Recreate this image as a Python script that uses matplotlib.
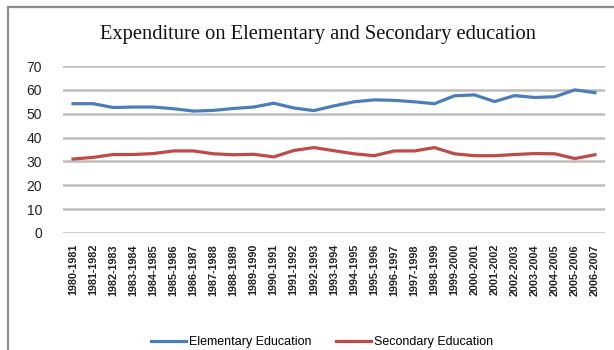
import matplotlib.pyplot as plt
from matplotlib.patches import Rectangle

years = [f"{y}-{y+1}" for y in range(1980, 2007)]
elementary = [54.2, 54.2, 52.6, 52.8, 52.8, 52.1, 51.1, 51.4, 52.2, 52.8,
              54.4, 52.4, 51.3, 53.3, 55.0, 55.8, 55.6, 55.0, 54.2, 57.5,
              57.9, 55.1, 57.6, 56.8, 57.1, 60.0, 58.8]
secondary = [31.0, 31.7, 32.9, 32.9, 33.3, 34.4, 34.4, 33.2, 32.8, 33.0,
             31.9, 34.6, 35.8, 34.5, 33.2, 32.4, 34.4, 34.4, 35.8, 33.2,
             32.4, 32.4, 32.9, 33.3, 33.2, 31.2, 32.8]
yticks = [0, 10, 20, 30, 40, 50, 60, 70]

W, H = 614, 350
fig = plt.figure(figsize=(W / 100, H / 100), dpi=100)
fig.patch.set_facecolor("white")

# outer chart frame (only top and left edges visible)
fig.patches.append(Rectangle((8 / W, -0.1), 1.2, 1.1 - 7 / H,
                             transform=fig.transFigure, fill=False,
                             edgecolor="#8c8c8c", linewidth=1.6))

ax = fig.add_axes([63 / W, 1 - 233 / H, (605 - 63) / W, (233 - 66) / H])
x = list(range(len(years)))
ax.plot(x, elementary, color="#4a7ebb", lw=2.3, label="Elementary Education")
ax.plot(x, secondary, color="#be4b48", lw=2.3, label="Secondary Education")

ax.set_xlim(-0.5, len(years) - 0.5)
ax.set_ylim(0, 70)
ax.set_yticks(yticks)
ax.set_yticklabels([str(v) for v in yticks], fontsize=10, color="#222222",
                   family="Liberation Sans")
ax.set_xticks(x)
ax.set_xticklabels(years, rotation=90, fontsize=7.8, color="#222222",
                   family="Liberation Sans", fontweight="bold")
ax.tick_params(length=0, pad=8)
ax.tick_params(axis="y", pad=15)
ax.grid(axis="y", color="#bdbdbd", lw=1.8)
ax.set_axisbelow(True)
for s in ax.spines.values():
    s.set_visible(False)

fig.text(318 / W, 1 - 35 / H,
         "Expenditure on Elementary and Secondary education",
         ha="center", va="center", fontsize=14.8, family="Liberation Serif",
         color="#111111")

fig.legend(loc="center", bbox_to_anchor=(322 / W, 1 - 342 / H), ncol=2,
           frameon=False, handlelength=2.8, handletextpad=0.2,
           columnspacing=2.0, borderaxespad=0, borderpad=0,
           prop={"family": "Liberation Sans", "size": 9})

fig.savefig("out.png", dpi=100)
